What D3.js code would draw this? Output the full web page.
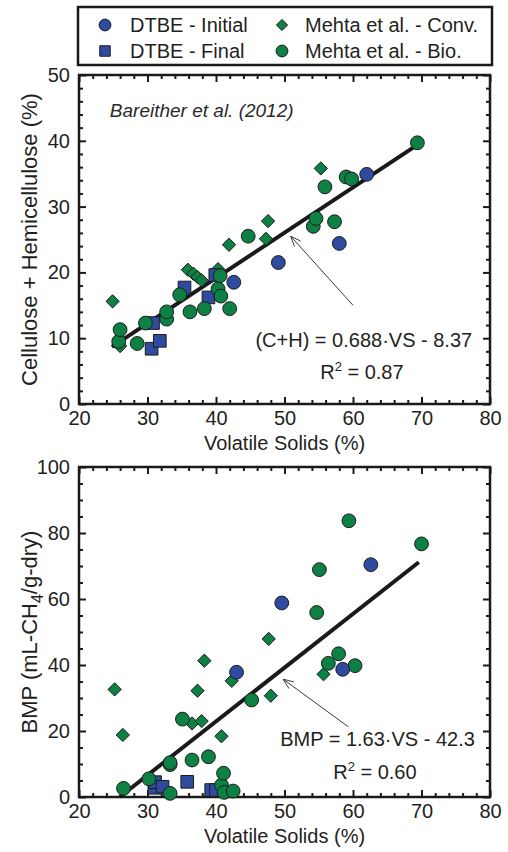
<!DOCTYPE html>
<html>
<head>
<meta charset="utf-8">
<script src="https://cdn.jsdelivr.net/npm/d3@7"></script>
<style>
  html, body { margin: 0; padding: 0; background: #fff; }
  svg { display: block; font-family: "Liberation Sans", Arial, Helvetica, sans-serif; }
</style>
</head>
<body>
<svg id="chart" width="508" height="852"></svg>
<script>
// ---------- data ----------
const legendLabels = ["DTBE - Initial", "DTBE - Final", "Mehta et al. - Conv.", "Mehta et al. - Bio."];
const xTicks = [20, 30, 40, 50, 60, 70, 80];
const chYTicks = [0, 10, 20, 30, 40, 50];
const bmpYTicks = [0, 20, 40, 60, 80, 100];

// Top panel: VS (%) vs Cellulose + Hemicellulose (%)
const dtbeInitialCH = [[42.6, 18.5], [49.1, 21.5], [58.0, 24.4], [62.0, 34.9]];
const dtbeFinalCH = [[30.6, 8.4], [30.8, 12.3], [31.8, 9.6], [35.4, 17.7], [38.9, 16.2], [39.9, 19.6]];
const mehtaConvCH = [[24.9, 15.6], [26.0, 8.8], [35.9, 20.4], [36.7, 19.8], [37.3, 19.3], [37.9, 18.8],
  [40.3, 20.5], [41.9, 24.2], [47.3, 25.1], [47.6, 27.8], [55.3, 35.8]];
const mehtaBioCH = [[25.8, 9.5], [26.0, 11.3], [28.5, 9.2], [29.7, 12.3], [32.8, 12.9], [32.8, 14.0],
  [34.7, 16.6], [36.2, 14.0], [38.3, 14.5], [40.3, 17.5], [40.6, 19.5], [40.7, 16.4], [42.0, 14.5],
  [44.7, 25.5], [54.2, 27.0], [54.6, 28.2], [55.9, 33.0], [57.3, 27.7], [59.0, 34.5], [59.8, 34.2], [69.4, 39.7]];

// Bottom panel: VS (%) vs BMP (mL-CH4/g-dry)
const dtbeInitialBMP = [[43.0, 37.8], [49.6, 58.8], [58.5, 38.7], [62.6, 70.4]];
const dtbeFinalBMP = [[31.0, 2.8], [31.1, 4.5], [32.2, 3.1], [35.8, 4.6], [39.3, 2.1], [40.0, 2.1]];
const mehtaConvBMP = [[25.2, 32.6], [26.4, 18.8], [36.5, 22.3], [37.3, 32.2], [37.9, 23.0], [38.3, 41.3],
  [40.8, 18.4], [42.3, 35.2], [47.7, 47.9], [48.0, 30.7], [55.7, 37.2]];
const mehtaBioBMP = [[26.5, 2.6], [30.2, 5.5], [33.3, 1.1], [33.3, 9.8], [33.3, 10.4], [35.1, 23.6],
  [36.5, 11.2], [38.9, 12.2], [40.8, 3.6], [41.1, 7.2], [41.2, 1.4], [42.5, 1.8], [45.2, 29.4],
  [54.7, 55.9], [55.1, 68.9], [56.4, 40.5], [57.9, 43.4], [59.4, 83.7], [60.3, 39.8], [70.0, 76.7]];

// Regressions: slope, intercept, VS range
const chFit = { slope: 0.688, intercept: -8.37, xRange: [24.8, 69.5] };
const bmpFit = { slope: 1.63, intercept: -42.3, xRange: [25.95, 69.6] };

// ---------- layout ----------
const svg = d3.select("#chart");
const plotLeft = 79, plotRight = 490;
const colors = { blue: "#2f4b9f", green: "#0d8043", stroke: "#1c1c1c", text: "#231f20" };
const FS = 20;

const x = d3.scaleLinear().domain([20, 80]).range([plotLeft, plotRight]);
const d3range = (a, b, s) => d3.range(a, b + 1e-9, s);

function drawMarkers(g, xs, ys, data, type, color) {
  const sel = g.append("g").selectAll("path").data(data).join("path")
    .attr("transform", d => `translate(${xs(d[0])},${ys(d[1])})`)
    .attr("fill", color).attr("stroke", colors.stroke).attr("stroke-width", 1);
  if (type === "circle") sel.attr("d", d3.symbol(d3.symbolCircle, 150)());
  else if (type === "square") sel.attr("d", d3.symbol(d3.symbolSquare, 160)());
  else sel.attr("d", d3.symbol(d3.symbolDiamond2, 112)());
}

function panel(opts) {
  const y = d3.scaleLinear().domain(opts.yDomain).range([opts.bottom, opts.top]);
  const g = svg.append("g");
  const w = plotRight - plotLeft, h = opts.bottom - opts.top;
  const xMinor = d3range(20, 80, 2).filter(v => !xTicks.includes(v));
  const yMinor = d3range(opts.yDomain[0], opts.yDomain[1], opts.yMinorStep).filter(v => !opts.yTicks.includes(v));

  function styleAxis(a) {
    a.select(".domain").remove();
    a.selectAll("line").attr("stroke", "#1a1a1a").attr("stroke-width", 2);
    a.selectAll("text").attr("font-size", FS).attr("fill", colors.text).attr("font-family", "Liberation Sans, Arial, sans-serif");
  }
  // bottom
  g.append("g").attr("transform", `translate(0,${opts.bottom})`)
    .call(d3.axisBottom(x).tickValues(xTicks).tickSize(-7).tickPadding(7).tickFormat(d3.format("d"))).call(styleAxis);
  g.append("g").attr("transform", `translate(0,${opts.bottom})`)
    .call(d3.axisBottom(x).tickValues(xMinor).tickSize(-4).tickFormat("")).call(styleAxis);
  // top
  g.append("g").attr("transform", `translate(0,${opts.top})`)
    .call(d3.axisTop(x).tickValues(xTicks).tickSize(-7).tickFormat("")).call(styleAxis);
  g.append("g").attr("transform", `translate(0,${opts.top})`)
    .call(d3.axisTop(x).tickValues(xMinor).tickSize(-4).tickFormat("")).call(styleAxis);
  // left
  g.append("g").attr("transform", `translate(${plotLeft},0)`)
    .call(d3.axisLeft(y).tickValues(opts.yTicks).tickSize(-7).tickPadding(9).tickFormat(d3.format("d"))).call(styleAxis);
  g.append("g").attr("transform", `translate(${plotLeft},0)`)
    .call(d3.axisLeft(y).tickValues(yMinor).tickSize(-4).tickFormat("")).call(styleAxis);
  // right
  g.append("g").attr("transform", `translate(${plotRight},0)`)
    .call(d3.axisRight(y).tickValues(opts.yTicks).tickSize(-7).tickFormat("")).call(styleAxis);
  g.append("g").attr("transform", `translate(${plotRight},0)`)
    .call(d3.axisRight(y).tickValues(yMinor).tickSize(-4).tickFormat("")).call(styleAxis);

  // frame
  g.append("rect").attr("x", plotLeft).attr("y", opts.top).attr("width", w).attr("height", h)
    .attr("fill", "none").attr("stroke", "#1a1a1a").attr("stroke-width", 2.5);

  // x title
  g.append("text").attr("x", (plotLeft + plotRight) / 2).attr("y", opts.bottom + 46)
    .attr("text-anchor", "middle").attr("font-size", FS).attr("fill", colors.text).text("Volatile Solids (%)");
  // y title
  const yt = g.append("text").attr("transform", `translate(${opts.yTitleX},${(opts.top + opts.bottom) / 2}) rotate(-90)`)
    .attr("text-anchor", "middle").attr("font-size", 22).attr("fill", colors.text);
  opts.yTitle(yt);

  // regression line
  const fit = opts.fit;
  g.append("line")
    .attr("x1", x(fit.xRange[0])).attr("y1", y(fit.slope * fit.xRange[0] + fit.intercept))
    .attr("x2", x(fit.xRange[1])).attr("y2", y(fit.slope * fit.xRange[1] + fit.intercept))
    .attr("stroke", "#1a1a1a").attr("stroke-width", 4);

  // markers
  drawMarkers(g, x, y, opts.conv, "diamond", colors.green);
  drawMarkers(g, x, y, opts.final, "square", colors.blue);
  drawMarkers(g, x, y, opts.bio, "circle", colors.green);
  drawMarkers(g, x, y, opts.initial, "circle", colors.blue);

  // arrow annotation
  const [tx, ty] = [x(opts.arrow.tip[0]), y(opts.arrow.tip[1])];
  const [sx, sy] = [x(opts.arrow.tail[0]), y(opts.arrow.tail[1])];
  g.append("line").attr("x1", sx).attr("y1", sy).attr("x2", tx).attr("y2", ty)
    .attr("stroke", "#3a3a3a").attr("stroke-width", 1);
  const ang = Math.atan2(sy - ty, sx - tx), L = 11, spread = 0.38;
  g.append("path")
    .attr("d", `M${tx + L * Math.cos(ang - spread)},${ty + L * Math.sin(ang - spread)}L${tx},${ty}L${tx + L * Math.cos(ang + spread)},${ty + L * Math.sin(ang + spread)}`)
    .attr("fill", "none").attr("stroke", "#3a3a3a").attr("stroke-width", 1);

  // equation
  g.append("text").attr("x", x(opts.eqPos[0])).attr("y", y(opts.eqPos[1]))
    .attr("text-anchor", "end").attr("font-size", FS).attr("fill", colors.text).text(opts.eqText);
  const r2 = g.append("text").attr("x", x(opts.r2Pos[0])).attr("y", y(opts.r2Pos[1]))
    .attr("text-anchor", "middle").attr("font-size", FS).attr("fill", colors.text);
  r2.append("tspan").text("R");
  r2.append("tspan").attr("font-size", 13).attr("dy", -8).text("2");
  r2.append("tspan").attr("dy", 8).text(" = " + opts.r2Text);
  return { g, y };
}

// ---------- top panel ----------
const topPanel = panel({
  top: 75, bottom: 404, yDomain: [0, 50], yTicks: chYTicks, yMinorStep: 2, yTitleX: 37,
  yTitle: t => t.text("Cellulose + Hemicellulose (%)"),
  fit: chFit,
  initial: dtbeInitialCH, final: dtbeFinalCH, conv: mehtaConvCH, bio: mehtaBioCH,
  arrow: { tip: [50.9, 25.5], tail: [60.0, 15.0] },
  eqText: "(C+H) = 0.688\u00B7VS - 8.37", eqPos: [77.4, 8.7],
  r2Text: "0.87", r2Pos: [61.3, 3.8]
});
topPanel.g.append("text").attr("x", x(24.5)).attr("y", topPanel.y(43.6))
  .attr("font-size", 19).attr("font-style", "italic").attr("fill", "#2a2a2a").text("Bareither et al. (2012)");

// ---------- bottom panel ----------
panel({
  top: 467, bottom: 797, yDomain: [0, 100], yTicks: bmpYTicks, yMinorStep: 5, yTitleX: 37,
  yTitle: t => {
    t.append("tspan").text("BMP (mL-CH");
    t.append("tspan").attr("font-size", 16).attr("dy", 6).text("4");
    t.append("tspan").attr("dy", -6).text("/g-dry)");
  },
  fit: bmpFit,
  initial: dtbeInitialBMP, final: dtbeFinalBMP, conv: mehtaConvBMP, bio: mehtaBioBMP,
  arrow: { tip: [49.8, 35.7], tail: [59.3, 21.3] },
  eqText: "BMP = 1.63\u00B7VS - 42.3", eqPos: [77.8, 15.4],
  r2Text: "0.60", r2Pos: [63.2, 5.4]
});

// ---------- legend ----------
const lg = svg.append("g");
lg.append("rect").attr("x", 78).attr("y", 7).attr("width", 414).attr("height", 58)
  .attr("fill", "#fff").attr("stroke", "#1a1a1a").attr("stroke-width", 2.5);
const legendItems = [
  { label: legendLabels[0], sym: d3.symbolCircle, size: 110, color: colors.blue, col: 0, row: 0 },
  { label: legendLabels[1], sym: d3.symbolSquare, size: 110, color: colors.blue, col: 0, row: 1 },
  { label: legendLabels[2], sym: d3.symbolDiamond2, size: 80, color: colors.green, col: 1, row: 0 },
  { label: legendLabels[3], sym: d3.symbolCircle, size: 110, color: colors.green, col: 1, row: 1 }
];
const colX = [105, 282], textX = [130, 305], rowY = [25, 51];
legendItems.forEach(it => {
  lg.append("path").attr("d", d3.symbol(it.sym, it.size)())
    .attr("transform", `translate(${colX[it.col]},${rowY[it.row]})`)
    .attr("fill", it.color).attr("stroke", colors.stroke).attr("stroke-width", 1);
  lg.append("text").attr("x", textX[it.col]).attr("y", rowY[it.row]).attr("dy", "0.36em")
    .attr("font-size", FS).attr("fill", colors.text).text(it.label);
});
</script>
</body>
</html>
